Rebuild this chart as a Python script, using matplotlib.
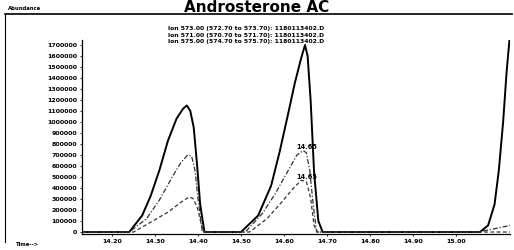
import matplotlib
matplotlib.use("Agg")
import matplotlib.pyplot as plt
from matplotlib.lines import Line2D

title = "Androsterone AC"
legend_lines = [
    "Ion 573.00 (572.70 to 573.70): 1180113402.D",
    "Ion 571.00 (570.70 to 571.70): 1180113402.D",
    "Ion 575.00 (574.70 to 575.70): 1180113402.D",
]
y_ticks = [0, 100000, 200000, 300000, 400000, 500000, 600000, 700000, 800000,
           900000, 1000000, 1100000, 1200000, 1300000, 1400000, 1500000,
           1600000, 1700000]
x_ticks = [14.20, 14.30, 14.40, 14.50, 14.60, 14.70, 14.80, 14.90, 15.00]

# ion 573 (solid)
t_solid = [14.13, 14.240, 14.270, 14.290, 14.310, 14.330, 14.350, 14.365, 14.374,
           14.382, 14.390, 14.398, 14.405, 14.415, 14.500, 14.540, 14.570,
           14.590, 14.610, 14.625, 14.640, 14.649, 14.655, 14.662, 14.670,
           14.680, 14.690, 14.800, 14.900, 15.000, 15.056, 15.075, 15.090,
           15.100, 15.110, 15.118, 15.126]
v_solid = [0, 0, 150000, 330000, 560000, 830000, 1030000, 1120000, 1150000,
           1100000, 950000, 600000, 250000, 0, 0, 150000, 420000,
           730000, 1080000, 1350000, 1580000, 1700000, 1600000, 1200000, 550000,
           100000, 0, 0, 0, 0, 0, 60000, 250000,
           560000, 1000000, 1450000, 1800000]

# ion 571 (dash-dot)
t_dd = [14.13, 14.240, 14.280, 14.310, 14.340, 14.360, 14.376, 14.385, 14.393,
        14.400, 14.410, 14.510, 14.550, 14.580, 14.610, 14.630, 14.645,
        14.652, 14.660, 14.668, 14.676, 14.690, 15.050, 15.090, 15.126]
v_dd = [0, 0, 120000, 290000, 500000, 630000, 700000, 690000, 560000,
        300000, 0, 0, 170000, 350000, 560000, 700000, 740000,
        720000, 560000, 250000, 0, 0, 0, 30000, 60000]

# ion 575 (dashed)
t_da = [14.13, 14.250, 14.290, 14.330, 14.360, 14.380, 14.390, 14.400, 14.408,
        14.415, 14.520, 14.560, 14.590, 14.620, 14.640, 14.652, 14.662,
        14.670, 14.678, 15.126]
v_da = [0, 0, 90000, 180000, 270000, 320000, 300000, 200000, 60000,
        0, 0, 120000, 250000, 390000, 470000, 460000, 310000,
        60000, 0, 0]

apex_labels = ["14.65", "14.65"]
apex_t = [14.652, 14.652]
apex_v = [740000, 470000]

fig = plt.figure(figsize=(5.14, 2.5), dpi=100)
ax = fig.add_axes([82 / 514, 1 - 234 / 250, 428 / 514, 194 / 250])
ax.plot(t_solid, v_solid, color="black", lw=1.4, ls="-")
ax.plot(t_dd, v_dd, color="#333333", lw=0.9, ls=(0, (4, 1.5, 1, 1.5)))
ax.plot(t_da, v_da, color="#333333", lw=0.9, ls=(0, (3, 2)))
for lab, t, v in zip(apex_labels, apex_t, apex_v):
    ax.text(t + 0.002, v + 30000, lab, fontsize=4.8, fontweight="bold",
            va="center", ha="center")

ax.set_xlim(14.13, 15.126)
ax.set_ylim(-18000, 1745000)
ax.set_yticks(y_ticks)
ax.set_yticklabels([str(v) for v in y_ticks], fontsize=4.5, fontweight="bold")
ax.set_xticks(x_ticks)
ax.set_xticklabels([f"{v:.2f}" for v in x_ticks], fontsize=4.5, fontweight="bold")
ax.tick_params(length=1.5, width=0.6, pad=2)
for s in ["top", "right"]:
    ax.spines[s].set_visible(False)
ax.spines["left"].set_linewidth(0.9)
ax.spines["bottom"].set_linewidth(0.9)

for i, line in enumerate(legend_lines):
    fig.text(168 / 514, 1 - (28.5 + i * 6.5) / 250, line, fontsize=4.4,
             fontweight="bold", va="center", ha="left")

fig.text(0.5, 1.0, title, fontsize=11, fontweight="bold", ha="center", va="top")
fig.text(8 / 514, 1 - 9 / 250, "Abundance", fontsize=3.8, fontweight="bold", va="center")
fig.text(15 / 514, 1 - 245 / 250, "Time-->", fontsize=3.8, fontweight="bold", va="center")
fig.add_artist(Line2D([5 / 514, 512 / 514], [1 - 14 / 250, 1 - 14 / 250],
                      color="black", lw=1.2, transform=fig.transFigure))
fig.add_artist(Line2D([5 / 514, 5 / 514], [1 - 14 / 250, 1 - 242 / 250],
                      color="black", lw=0.8, transform=fig.transFigure))

fig.savefig("out.png", dpi=100)
